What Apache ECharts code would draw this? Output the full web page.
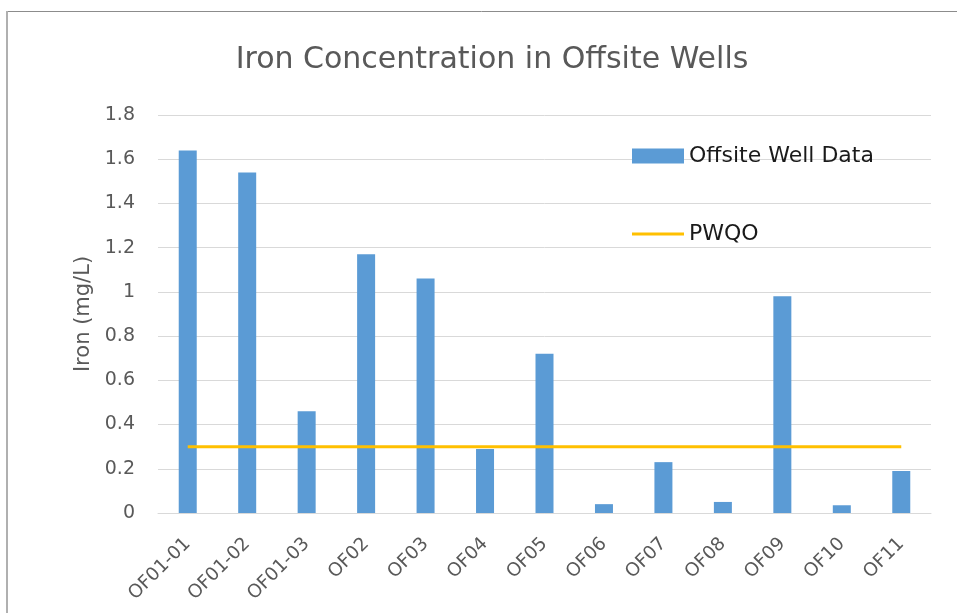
<!DOCTYPE html>
<html>
<head>
<meta charset="utf-8">
<script src="https://cdn.jsdelivr.net/npm/echarts@6/dist/echarts.min.js"></script>
<style>
html,body{margin:0;padding:0;background:#fff;}
#chart{width:957px;height:613px;}
</style>
</head>
<body>
<div id="chart"></div>
<script>
const categories = ['OF01-01','OF01-02','OF01-03','OF02','OF03','OF04','OF05','OF06','OF07','OF08','OF09','OF10','OF11'];
const wellData = [1.64, 1.54, 0.46, 1.17, 1.06, 0.29, 0.72, 0.04, 0.23, 0.05, 0.98, 0.035, 0.19];
const pwqo = [0.3, 0.3, 0.3, 0.3, 0.3, 0.3, 0.3, 0.3, 0.3, 0.3, 0.3, 0.3, 0.3];
const yTicks = {min: 0, max: 1.8, interval: 0.2};

const FONT = '"DejaVu Sans", sans-serif';
const chart = echarts.init(document.getElementById('chart'));
chart.setOption({
  animation: false,
  backgroundColor: '#ffffff',
  textStyle: {fontFamily: FONT},
  title: {
    text: 'Iron Concentration in Offsite Wells',
    left: 487, top: 40, textAlign: 'center',
    textStyle: {fontFamily: FONT, fontSize: 30, fontWeight: 'normal', color: '#595959'}
  },
  graphic: [
    {type: 'line', shape: {x1: 6, y1: 11.5, x2: 957, y2: 11.5}, style: {stroke: '#8c8c8c', lineWidth: 1}, silent: true},
    {type: 'line', shape: {x1: 7, y1: 11, x2: 7, y2: 613}, style: {stroke: '#b0b0b0', lineWidth: 2}, silent: true}
  ],
  legend: [
    {data: ['Offsite Well Data'], left: 627, top: 140, icon: 'rect', itemWidth: 52, itemHeight: 15, itemGap: 5,
     textStyle: {fontFamily: FONT, fontSize: 22, color: '#1a1a1a'}},
    {data: ['PWQO'], left: 627, top: 218, icon: 'rect', itemWidth: 52, itemHeight: 3,
     textStyle: {fontFamily: FONT, fontSize: 22, color: '#1a1a1a'}}
  ],
  grid: {left: 158, right: 26, top: 115, bottom: 100, containLabel: false},
  xAxis: {
    type: 'category', data: categories,
    axisLine: {lineStyle: {color: '#d9d9d9', width: 1}},
    axisTick: {show: false},
    axisLabel: {rotate: 45, margin: 28, fontFamily: FONT, fontSize: 18.5, color: '#595959', interval: 0}
  },
  yAxis: {
    type: 'value', min: yTicks.min, max: yTicks.max, interval: yTicks.interval,
    name: 'Iron (mg/L)', nameLocation: 'middle', nameGap: 64, nameRotate: 90,
    nameTextStyle: {fontFamily: FONT, fontSize: 21, color: '#595959'},
    axisLine: {show: false}, axisTick: {show: false},
    splitLine: {lineStyle: {color: '#d9d9d9', width: 1}},
    axisLabel: {margin: 23, fontFamily: FONT, fontSize: 19, color: '#595959',
      formatter: v => String(Math.round(v * 10) / 10)}
  },
  series: [
    {name: 'Offsite Well Data', type: 'bar', data: wellData, barWidth: 18,
     itemStyle: {color: '#5b9bd5'}},
    {name: 'PWQO', type: 'line', data: pwqo, symbol: 'none',
     lineStyle: {color: '#ffc000', width: 3}, itemStyle: {color: '#ffc000'}, z: 5}
  ]
});
</script>
</body>
</html>
